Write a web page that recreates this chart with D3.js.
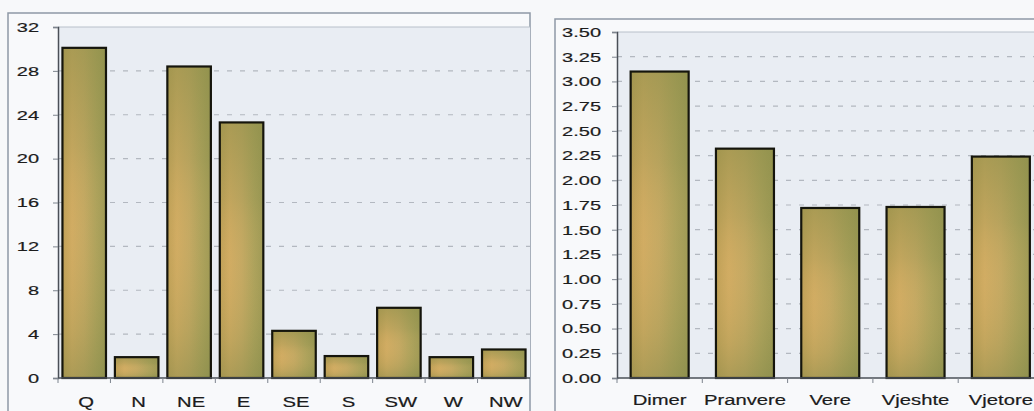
<!DOCTYPE html>
<html>
<head>
<meta charset="utf-8">
<script src="https://cdn.jsdelivr.net/npm/d3@7"></script>
<style>
  html, body { margin: 0; padding: 0; background: #f7f8fa; }
  svg { display: block; }
  text { font-family: "Liberation Sans", Arial, sans-serif; fill: #1c1c1c; stroke: #1c1c1c; stroke-width: 0.2; }
</style>
</head>
<body>
<svg id="chart" width="1034" height="411"></svg>
<script>
// Wind direction frequencies (%)
const windCats = ["Q", "N", "NE", "E", "SE", "S", "SW", "W", "NW"];
const windVals = [30.1, 1.9, 28.4, 23.3, 4.3, 2.0, 6.4, 1.9, 2.6];
const windTicks = [0, 4, 8, 12, 16, 20, 24, 28, 32];

// Seasonal mean values
const seasonCats = ["Dimer", "Pranvere", "Vere", "Vjeshte", "Vjetore"];
const seasonVals = [3.10, 2.32, 1.72, 1.73, 2.24];
const seasonTicks = [0, 0.25, 0.5, 0.75, 1, 1.25, 1.5, 1.75, 2, 2.25, 2.5, 2.75, 3, 3.25, 3.5];

const svg = d3.select("#chart");

const defs = svg.append("defs");
const hGrad = defs.append("linearGradient").attr("id", "barH")
  .attr("x1", "0%").attr("x2", "100%").attr("y1", "0%").attr("y2", "0%");
[["0%", "#bfa057"], ["22%", "#d1ac63"], ["50%", "#c4a963"], ["78%", "#aca25c"], ["100%", "#9c9955"]]
  .forEach(([o, c]) => hGrad.append("stop").attr("offset", o).attr("stop-color", c));
const vGrad = defs.append("linearGradient").attr("id", "barV")
  .attr("x1", "0%").attr("x2", "0%").attr("y1", "0%").attr("y2", "100%");
[["0%", "#8a8d48", 0.55], ["30%", "#8a8d48", 0.22], ["55%", "#d8b060", 0.05], ["85%", "#8a8d48", 0.22], ["100%", "#7e8646", 0.45]]
  .forEach(([o, c, a]) => vGrad.append("stop").attr("offset", o).attr("stop-color", c).attr("stop-opacity", a));

function panel(cfg) {
  const g = svg.append("g");
  if (cfg.clip) {
    defs.append("clipPath").attr("id", cfg.id + "-clip")
      .append("rect").attr("x", 0).attr("y", 0).attr("width", cfg.clip).attr("height", 411);
    g.attr("clip-path", `url(#${cfg.id}-clip)`);
  }

  // outer frame
  g.append("rect").attr("x", cfg.frame[0]).attr("y", cfg.frame[1])
    .attr("width", cfg.frame[2]).attr("height", cfg.frame[3])
    .attr("fill", "#f8f9fb").attr("stroke", "#8e98a6").attr("stroke-width", 1.5);

  const x = d3.scaleBand().domain(cfg.cats).range(cfg.xRange)
    .paddingInner(cfg.padIn).paddingOuter(cfg.padIn / 2);
  const y = d3.scaleLinear().domain(cfg.yDomain).range(cfg.yRange);
  const [x0, x1] = cfg.xRange;
  const plotRight = Math.min(x1, 1034);

  // plot background
  g.append("rect").attr("x", x0).attr("y", y(cfg.yDomain[1]))
    .attr("width", plotRight - x0).attr("height", y(0) - y(cfg.yDomain[1]))
    .attr("fill", "#e9edf3");
  g.append("line").attr("x1", x0).attr("x2", plotRight)
    .attr("y1", y(cfg.yDomain[1])).attr("y2", y(cfg.yDomain[1]))
    .attr("stroke", "#b9c0ca").attr("stroke-width", 1);

  // dashed gridlines
  g.append("g").selectAll("line")
    .data(cfg.ticks.filter(t => t > 0 && t < cfg.yDomain[1]))
    .join("line")
    .attr("x1", x0).attr("x2", plotRight)
    .attr("y1", d => y(d)).attr("y2", d => y(d))
    .attr("stroke", "#b3b8c0").attr("stroke-width", 1.2)
    .attr("stroke-dasharray", "5,8");

  // bars
  const bars = g.append("g").selectAll("g").data(cfg.cats.map((c, i) => ({ c, v: cfg.vals[i] }))).join("g");
  bars.append("rect")
    .attr("x", d => x(d.c)).attr("y", d => y(d.v))
    .attr("width", x.bandwidth()).attr("height", d => y(0) - y(d.v))
    .attr("fill", "url(#barH)");
  bars.append("rect")
    .attr("x", d => x(d.c)).attr("y", d => y(d.v))
    .attr("width", x.bandwidth()).attr("height", d => y(0) - y(d.v))
    .attr("fill", "url(#barV)")
    .attr("stroke", "#15150c").attr("stroke-width", 2.2);

  // y axis (lines and ticks from d3, labels drawn separately)
  const ya = g.append("g").attr("transform", `translate(${x0},0)`)
    .call(d3.axisLeft(y).tickValues(cfg.ticks).tickSize(5).tickFormat(""));
  ya.select(".domain").attr("stroke", "#4a4f57").attr("stroke-width", 1.5);
  ya.selectAll(".tick line").attr("stroke", "#7d848e");

  g.append("g").selectAll("text").data(cfg.ticks).join("text")
    .attr("transform", d => `translate(${cfg.yLabelX},${y(d) + 4.8}) scale(1.48,1)`)
    .attr("text-anchor", "end")
    .attr("font-size", 13.5)
    .text(cfg.fmt);

  // x axis baseline and band-boundary ticks
  const xa = g.append("g");
  xa.append("line").attr("x1", x0).attr("x2", plotRight).attr("y1", y(0)).attr("y2", y(0))
    .attr("stroke", "#4a4f57").attr("stroke-width", 1.5);
  const gap = x.step() - x.bandwidth();
  xa.selectAll("line.tk").data(cfg.cats).join("line").attr("class", "tk")
    .attr("x1", d => x(d) - gap / 2).attr("x2", d => x(d) - gap / 2)
    .attr("y1", y(0)).attr("y2", y(0) + 5)
    .attr("stroke", "#7d848e");

  g.append("g").selectAll("text").data(cfg.cats).join("text")
    .attr("transform", d => `translate(${x(d) + x.bandwidth() / 2 + cfg.xLabelShift},${cfg.xLabelY}) scale(1.35,1)`)
    .attr("text-anchor", "middle")
    .attr("font-size", 15)
    .text(d => d);
}

panel({
  id: "wind",
  cats: windCats, vals: windVals, ticks: windTicks,
  frame: [8, 13, 522, 410],
  clip: 531,
  xRange: [58, 530], padIn: 0.17,
  yDomain: [0, 32], yRange: [378, 27],
  yLabelX: 39, xLabelY: 407, xLabelShift: 2,
  fmt: d => d3.format("d")(d)
});

panel({
  id: "season",
  cats: seasonCats, vals: seasonVals, ticks: seasonTicks,
  frame: [555, 19, 490, 410],
  xRange: [617, 1043.5], padIn: 0.32,
  yDomain: [0, 3.5], yRange: [378, 32],
  yLabelX: 601, xLabelY: 405, xLabelShift: 0,
  fmt: d => d3.format(".2f")(d)
});
</script>
</body>
</html>
